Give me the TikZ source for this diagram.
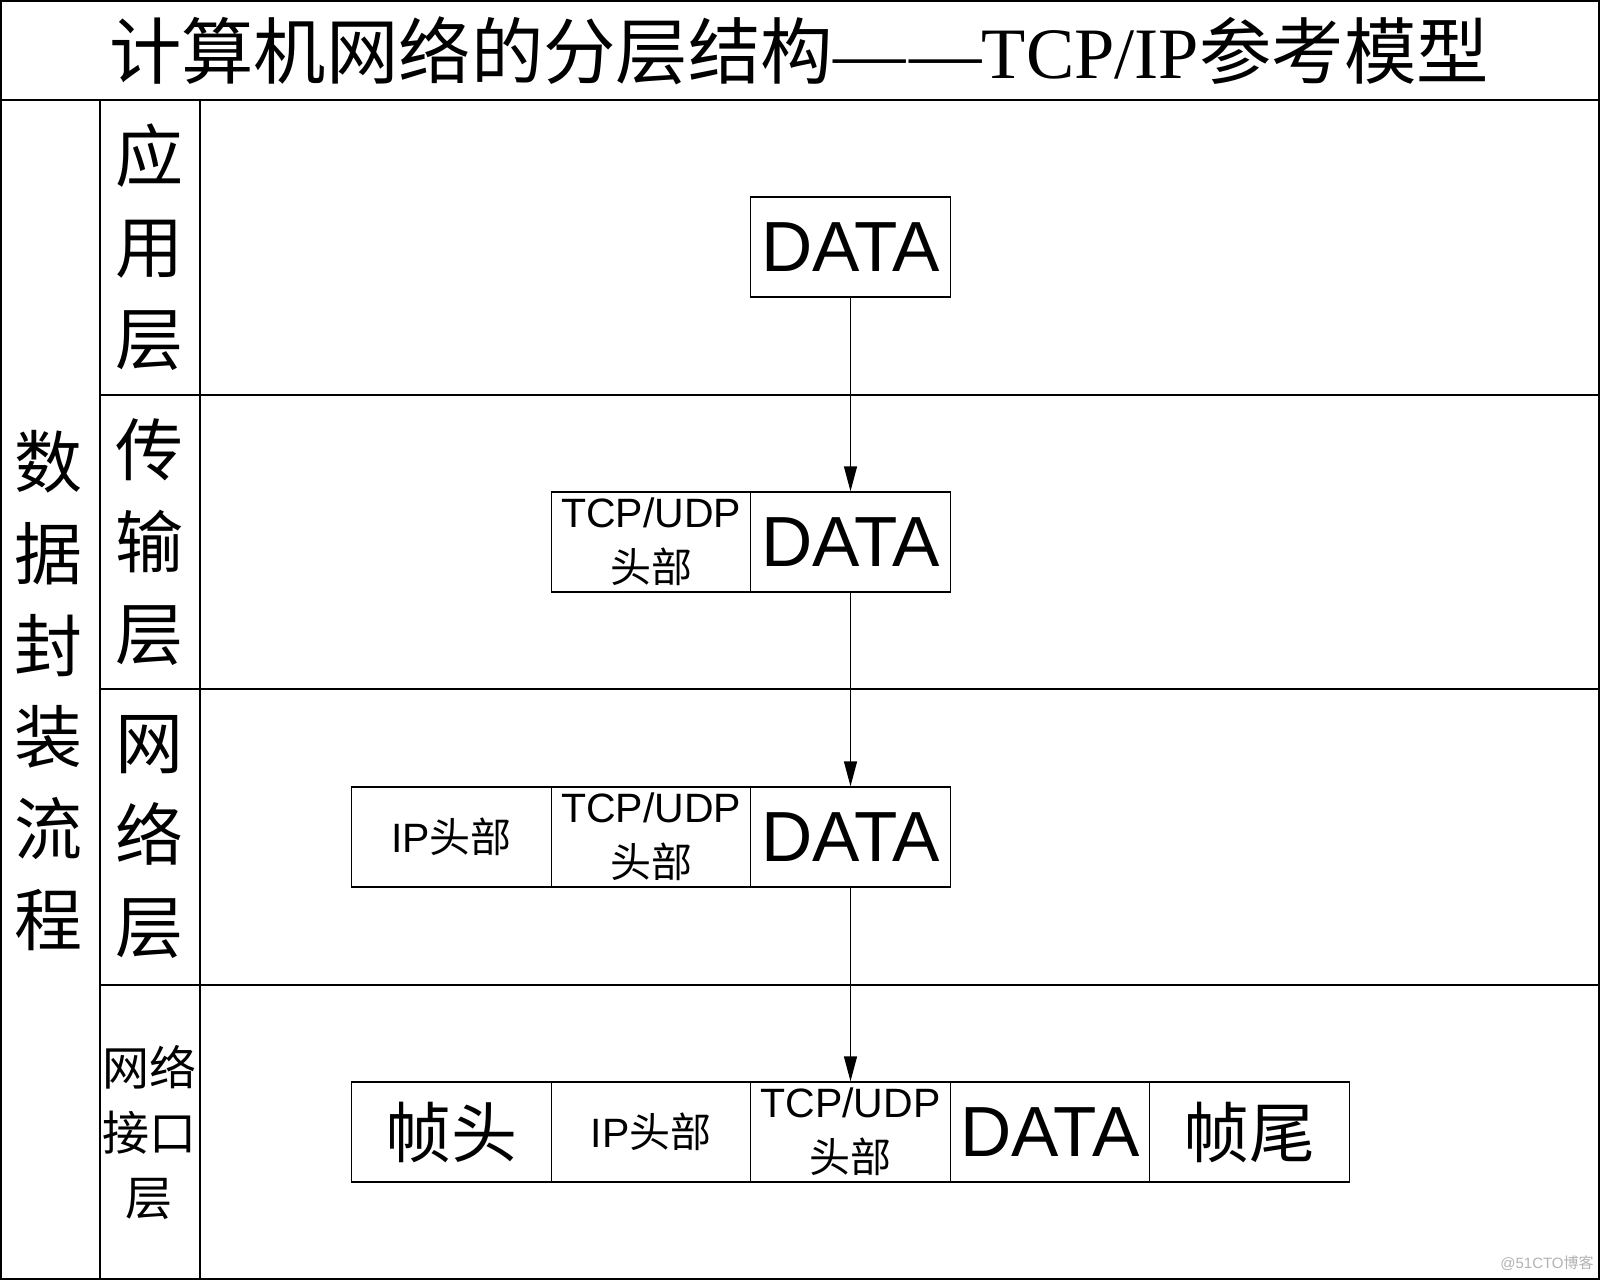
\documentclass[tikz,border=0pt]{standalone}
\usepackage{fontspec}
\setmainfont{Liberation Sans}
\newfontfamily\cjk{Noto Sans CJK SC}
\newfontfamily\serifl{Liberation Serif}
\usetikzlibrary{arrows.meta}
\begin{document}
\begin{tikzpicture}[x=0.5pt,y=-0.5pt,
  rule/.style={line width=0.8pt,black},
  cell/.style={draw,line width=0.7pt,minimum width=99.75pt,minimum height=50pt,inner sep=0pt,anchor=center,align=center},
  arr/.style={line width=0.7pt,-{Triangle[length=12.5pt,width=6.5pt]}},
  vlabel/.style={align=center,inner sep=0pt,font=\cjk\fontsize{34}{45.8}\selectfont},
  big/.style={font=\fontsize{35.5}{40}\selectfont},
  mid/.style={font=\fontsize{20.5}{27.5}\selectfont}
]
\useasboundingbox (0,0) rectangle (1600,1280);
% table frame
\draw[rule] (0.8,0.8) rectangle (1599.2,1279.2);
\draw[rule] (0,100) -- (1600,100);
\draw[rule] (100,100) -- (100,1280);
\draw[rule] (200,100) -- (200,1280);
\draw[rule] (100,395) -- (1600,395);
\draw[rule] (100,689) -- (1600,689);
\draw[rule] (100,985) -- (1600,985);
% title
\node[inner sep=0pt,font=\fontsize{36.2}{40}\selectfont] (title) at (799,51)
  {{\cjk 计算机网络的分层结构}{\serifl —\kern2pt—TCP/IP}{\cjk 参考模型}};
% left column
\node[vlabel] (flow) at (48,691) {数\\据\\封\\装\\流\\程};
% layer labels
\node[vlabel] (app) at (149,247) {应\\用\\层};
\node[vlabel] (trans) at (149,542) {传\\输\\层};
\node[vlabel] (net) at (149,837) {网\\络\\层};
\node[align=center,inner sep=0pt,font=\cjk\fontsize{23.5}{32.5}\selectfont] (link) at (149,1133) {网络\\接口\\层};
% application layer
\node[cell,big] (d1) at (850.5,247) {DATA};
% transport layer
\node[cell,mid] (t2) at (651,542) {TCP/UDP\\{\cjk 头部}};
\node[cell,big] (d2) at (850.5,542) {DATA};
% network layer
\node[cell,mid] (i3) at (451.5,837) {IP{\cjk 头部}};
\node[cell,mid] (t3) at (651,837) {TCP/UDP\\{\cjk 头部}};
\node[cell,big] (d3) at (850.5,837) {DATA};
% link layer
\node[cell,font=\cjk\fontsize{33}{40}\selectfont] (f4) at (451.5,1132) {帧头};
\node[cell,mid] (i4) at (651,1132) {IP{\cjk 头部}};
\node[cell,mid] (t4) at (850.5,1132) {TCP/UDP\\{\cjk 头部}};
\node[cell,big] (d4) at (1050,1132) {DATA};
\node[cell,font=\cjk\fontsize{33}{40}\selectfont] (w4) at (1249.5,1132) {帧尾};
% arrows
\draw[arr] (d1.south) -- (d2.north);
\draw[arr] (d2.south) -- (d3.north);
\draw[arr] (d3.south) -- (t4.north);
% watermark
\node[inner sep=0pt,text=black!30,font=\fontsize{7.5}{9}\selectfont] (wm) at (1547,1263) {@51CTO{\cjk 博客}};
\end{tikzpicture}
\end{document}
